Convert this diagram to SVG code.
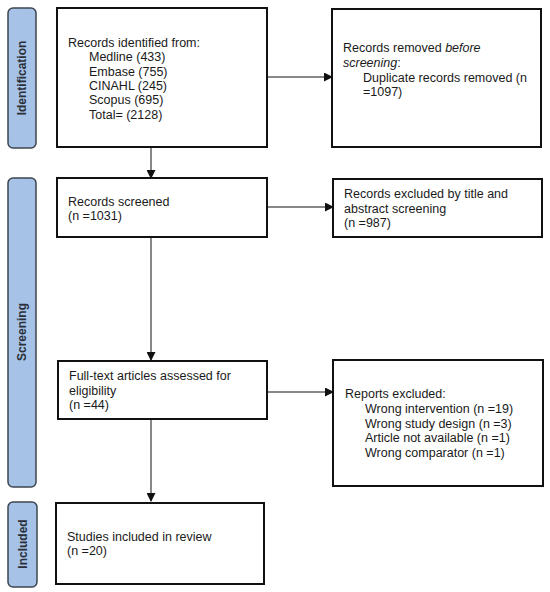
<svg xmlns="http://www.w3.org/2000/svg" width="550" height="592" viewBox="0 0 550 592">
<style>
.bg{fill:#ffffff}
.box{fill:#ffffff;stroke:#111111;stroke-width:2}
.bar{fill:#a6c3e7;stroke:#3c4550;stroke-width:1.5}
.t{font-family:"Liberation Sans",Arial,sans-serif;font-size:12.5px;fill:#1a1a1a}
.lab{font-family:"Liberation Sans",Arial,sans-serif;font-size:12px;font-weight:bold;fill:#2a2f38;text-anchor:middle}
.ln{stroke:#111111;stroke-width:1;fill:none}
</style>
<defs>
<marker id="ah" markerWidth="9" markerHeight="9" refX="8" refY="4.5" orient="auto" markerUnits="userSpaceOnUse">
<path d="M0,0 L9,4.5 L0,9 Z" fill="#111111"/>
</marker>
</defs>
<rect class="bg" x="0" y="0" width="550" height="592"/>
<g id="phases">
<g id="phase-identification">
<rect class="bar" x="8" y="8" width="28" height="140" rx="5"/>
<text class="lab" transform="translate(26,78) rotate(-90)">Identification</text>
</g>
<g id="phase-screening">
<rect class="bar" x="8" y="178" width="28" height="309" rx="5"/>
<text class="lab" transform="translate(26,332) rotate(-90)">Screening</text>
</g>
<g id="phase-included">
<rect class="bar" x="8" y="502" width="29" height="85" rx="5"/>
<text class="lab" transform="translate(26.5,544) rotate(-90)">Included</text>
</g>
</g>
<g id="connectors">
<line class="ln" x1="151" y1="147" x2="151" y2="178" marker-end="url(#ah)"/>
<line class="ln" x1="267" y1="77" x2="332" y2="77" marker-end="url(#ah)"/>
<line class="ln" x1="151" y1="237" x2="151" y2="360" marker-end="url(#ah)"/>
<line class="ln" x1="267" y1="207" x2="333" y2="207" marker-end="url(#ah)"/>
<line class="ln" x1="151" y1="419" x2="151" y2="501" marker-end="url(#ah)"/>
<line class="ln" x1="267" y1="392" x2="333" y2="392" marker-end="url(#ah)"/>
</g>
<g id="records-identified">
<rect class="box" x="57" y="8" width="210" height="139"/>
<text class="t" x="68" y="47">Records identified from:</text>
<text class="t" x="89" y="61">Medline (433)</text>
<text class="t" x="89" y="76">Embase (755)</text>
<text class="t" x="89" y="90">CINAHL (245)</text>
<text class="t" x="89" y="104">Scopus (695)</text>
<text class="t" x="89" y="119">Total= (2128)</text>
</g>
<g id="records-removed">
<rect class="box" x="332" y="9" width="209" height="138"/>
<text class="t" x="343" y="52">Records removed <tspan font-style="italic">before</tspan></text>
<text class="t" x="343" y="67"><tspan font-style="italic">screening</tspan>:</text>
<text class="t" x="363" y="82">Duplicate records removed (n</text>
<text class="t" x="363" y="96">=1097)</text>
</g>
<g id="records-screened">
<rect class="box" x="57" y="178" width="210" height="59"/>
<text class="t" x="68" y="206">Records screened</text>
<text class="t" x="68" y="220">(n =1031)</text>
</g>
<g id="records-excluded">
<rect class="box" x="333" y="179" width="209" height="58"/>
<text class="t" x="344" y="198">Records excluded by title and</text>
<text class="t" x="344" y="213">abstract screening</text>
<text class="t" x="344" y="227">(n =987)</text>
</g>
<g id="full-text">
<rect class="box" x="58" y="361" width="209" height="58"/>
<text class="t" x="69" y="380">Full-text articles assessed for</text>
<text class="t" x="69" y="395">eligibility</text>
<text class="t" x="69" y="409">(n =44)</text>
</g>
<g id="reports-excluded">
<rect class="box" x="333" y="360" width="210" height="126"/>
<text class="t" x="345" y="398">Reports excluded:</text>
<text class="t" x="365" y="413">Wrong intervention (n =19)</text>
<text class="t" x="365" y="428">Wrong study design (n =3)</text>
<text class="t" x="365" y="442">Article not available (n =1)</text>
<text class="t" x="365" y="457">Wrong comparator (n =1)</text>
</g>
<g id="studies-included">
<rect class="box" x="56" y="503" width="208" height="81"/>
<text class="t" x="67" y="541">Studies included in review</text>
<text class="t" x="67" y="555">(n =20)</text>
</g>
</svg>
